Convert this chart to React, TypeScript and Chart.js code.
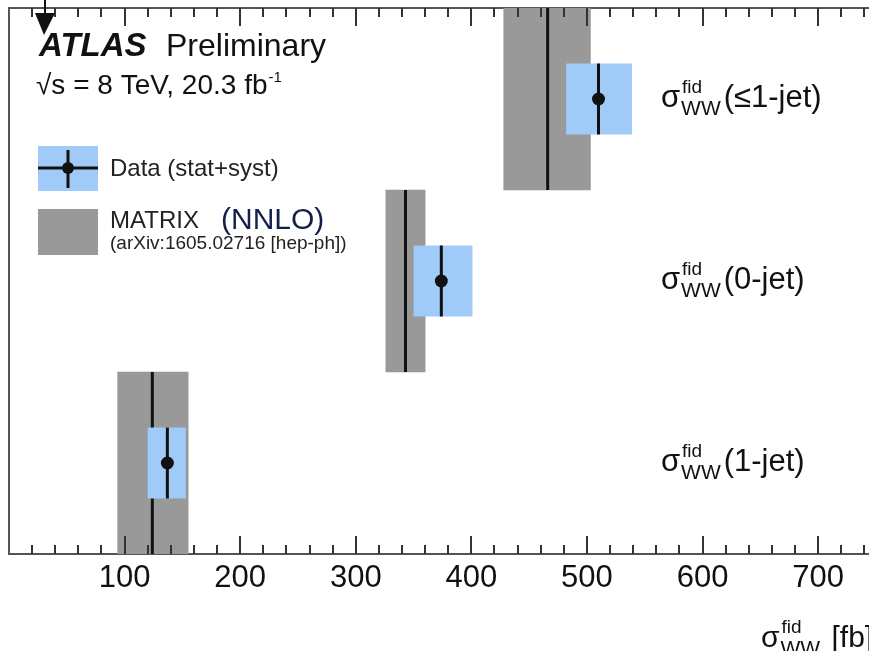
import React, { useEffect, useRef } from 'react';
import { Chart, registerables } from 'chart.js';

Chart.register(...registerables);

// ---- data ----
const rowLabels = ['(1-jet)', '(0-jet)', '(≤1-jet)'];
const rowPositions = [0.5, 1.5, 2.5];
const dataValues = [137, 374, 510];
const dataLow = [120, 350, 482];
const dataHigh = [153, 401, 539];
const theoryValues = [124, 343, 466];
const theoryLow = [94, 326, 428];
const theoryHigh = [155, 360, 503];
const xMin = 0;
const xMax = 744;
const xMajorStep = 100;
const xMinorStep = 20;
const yMin = 0;
const yMax = 3;
const rowLabelAnchor = 564;

// ---- style ----
const FONT = '"Liberation Sans", Arial, Helvetica, sans-serif';
const GRAY = '#999999';
const BLUE = '#a0cbf8';
const INK = '#111111';
const AXIS = '#555555';
const DATA_BOX_FRACTION = 0.39;

function drawSigma(ctx: CanvasRenderingContext2D, x: number, baseline: number, tail: string, size: number) {
  ctx.fillStyle = INK;
  ctx.textAlign = 'left';
  ctx.textBaseline = 'alphabetic';
  ctx.font = `${size}px ${FONT}`;
  ctx.fillText('σ', x, baseline);
  const sw = ctx.measureText('σ').width;
  ctx.font = `19px ${FONT}`;
  ctx.fillText('fid', x + sw + 2, baseline - 14);
  const fw = ctx.measureText('fid').width;
  ctx.font = `21px ${FONT}`;
  ctx.fillText('WW', x + sw + 1, baseline + 8);
  const ww = ctx.measureText('WW').width;
  ctx.font = `${size}px ${FONT}`;
  ctx.fillText(tail, x + sw + 1 + Math.max(fw, ww) + 3, baseline);
}

const decorPlugin = {
  id: 'decor',
  afterDatasetDraw(chart: any, args: any) {
    const ctx: CanvasRenderingContext2D = chart.ctx;
    const xs = chart.scales.x;
    const ys = chart.scales.y;
    const a = chart.chartArea;
    ctx.save();
    ctx.beginPath();
    ctx.rect(a.left, a.top, a.right - a.left, a.bottom - a.top);
    ctx.clip();
    ctx.strokeStyle = INK;
    ctx.lineWidth = 3;
    if (args.index === 2) {
      theoryValues.forEach((v, i) => {
        const x = xs.getPixelForValue(v);
        ctx.beginPath();
        ctx.moveTo(x, ys.getPixelForValue(rowPositions[i] - 0.5));
        ctx.lineTo(x, ys.getPixelForValue(rowPositions[i] + 0.5));
        ctx.stroke();
      });
    }
    if (args.index === 1) {
      dataValues.forEach((v, i) => {
        const x = xs.getPixelForValue(v);
        ctx.beginPath();
        ctx.moveTo(x, ys.getPixelForValue(rowPositions[i] - DATA_BOX_FRACTION / 2));
        ctx.lineTo(x, ys.getPixelForValue(rowPositions[i] + DATA_BOX_FRACTION / 2));
        ctx.stroke();
      });
    }
    ctx.restore();
  },
  afterDraw(chart: any) {
    const ctx: CanvasRenderingContext2D = chart.ctx;
    const xs = chart.scales.x;
    const ys = chart.scales.y;
    const a = chart.chartArea;
    ctx.save();
    // inward tick marks on bottom and top axes
    ctx.strokeStyle = '#333333';
    ctx.lineWidth = 2;
    for (let v = xMin + xMinorStep; v <= xMax; v += xMinorStep) {
      const x = Math.round(xs.getPixelForValue(v));
      const len = v % xMajorStep === 0 ? 18 : 9;
      ctx.beginPath();
      ctx.moveTo(x, a.bottom);
      ctx.lineTo(x, a.bottom - len);
      ctx.moveTo(x, a.top);
      ctx.lineTo(x, a.top + len);
      ctx.stroke();
    }

    // arrow at top left
    ctx.fillStyle = INK;
    ctx.strokeStyle = INK;
    ctx.lineWidth = 2;
    ctx.beginPath();
    ctx.moveTo(45, 0);
    ctx.lineTo(45, 14);
    ctx.stroke();
    ctx.beginPath();
    ctx.moveTo(35, 13);
    ctx.lineTo(55, 13);
    ctx.lineTo(44, 35);
    ctx.closePath();
    ctx.fill();

    // ATLAS label
    ctx.textAlign = 'left';
    ctx.textBaseline = 'alphabetic';
    ctx.fillStyle = INK;
    ctx.font = `italic bold 33px ${FONT}`;
    ctx.fillText('ATLAS', 39, 56);
    ctx.font = `32px ${FONT}`;
    ctx.fillText('Preliminary', 166, 56);
    ctx.font = `28px ${FONT}`;
    ctx.fillText('√s = 8 TeV, 20.3 fb', 36, 94);
    const w1 = ctx.measureText('√s = 8 TeV, 20.3 fb').width;
    ctx.font = `15px ${FONT}`;
    ctx.fillText('-1', 36 + w1 + 1, 82);

    // legend
    ctx.fillStyle = BLUE;
    ctx.fillRect(38, 146, 60, 45);
    ctx.strokeStyle = INK;
    ctx.lineWidth = 3;
    ctx.beginPath();
    ctx.moveTo(38, 168);
    ctx.lineTo(98, 168);
    ctx.moveTo(68, 150);
    ctx.lineTo(68, 188);
    ctx.stroke();
    ctx.fillStyle = INK;
    ctx.beginPath();
    ctx.arc(68, 168, 6, 0, Math.PI * 2);
    ctx.fill();
    ctx.fillStyle = GRAY;
    ctx.fillRect(38, 209, 60, 46);
    ctx.fillStyle = '#222222';
    ctx.font = `24px ${FONT}`;
    ctx.fillText('Data (stat+syst)', 110, 176);
    ctx.font = `24px ${FONT}`;
    ctx.fillText('MATRIX', 110, 228);
    ctx.fillStyle = '#14204a';
    ctx.font = `30px ${FONT}`;
    ctx.fillText('(NNLO)', 221, 229);
    ctx.fillStyle = '#222222';
    ctx.font = `19px ${FONT}`;
    ctx.fillText('(arXiv:1605.02716 [hep-ph])', 110, 249);

    // row labels
    rowLabels.forEach((lab, i) => {
      const y = ys.getPixelForValue(rowPositions[i]);
      drawSigma(ctx, xs.getPixelForValue(rowLabelAnchor), y + 8, lab, 31);
    });

    // axis title
    drawSigma(ctx, 761, 647, ' [fb]', 30);
    ctx.restore();
  },
};

export default function App() {
  const canvasRef = useRef<HTMLCanvasElement | null>(null);

  useEffect(() => {
    document.body.style.margin = '0';
    document.body.style.overflow = 'hidden';
    const canvas = canvasRef.current;
    if (!canvas) return;

    const chart = new Chart(canvas, {
      type: 'bar',
      data: {
        datasets: [
          {
            type: 'scatter',
            label: 'Data',
            data: dataValues.map((v, i) => ({ x: v, y: rowPositions[i] })),
            backgroundColor: INK,
            borderColor: INK,
            pointRadius: 6.5,
            pointHoverRadius: 6.5,
            borderWidth: 0,
            clip: false,
          } as any,
          {
            type: 'bar',
            label: 'Data (stat+syst)',
            data: dataLow.map((lo, i) => ({ x: [lo, dataHigh[i]], y: rowPositions[i] })),
            backgroundColor: BLUE,
            borderWidth: 0,
            grouped: false,
            categoryPercentage: 1,
            barPercentage: DATA_BOX_FRACTION,
          } as any,
          {
            type: 'bar',
            label: 'MATRIX (NNLO)',
            data: theoryLow.map((lo, i) => ({ x: [lo, theoryHigh[i]], y: rowPositions[i] })),
            backgroundColor: GRAY,
            borderWidth: 0,
            grouped: false,
            categoryPercentage: 1,
            barPercentage: 1,
          } as any,
        ],
      },
      options: {
        indexAxis: 'y',
        responsive: false,
        animation: false,
        devicePixelRatio: 1,
        layout: { autoPadding: false, padding: { left: 9, top: 8, right: 0, bottom: 0 } },
        plugins: {
          legend: { display: false },
          tooltip: { enabled: false },
        },
        scales: {
          x: {
            type: 'linear',
            position: 'bottom',
            min: xMin,
            max: xMax,
            offset: false,
            grid: { display: false, drawTicks: false },
            border: { display: true, color: AXIS, width: 2 },
            ticks: {
              stepSize: xMajorStep,
              includeBounds: false,
              autoSkip: false,
              maxRotation: 0,
              padding: 6,
              color: INK,
              font: { family: FONT, size: 31 },
              callback: (v: any) => (Number(v) > 0 && Number(v) % xMajorStep === 0 ? String(v) : ''),
            },
            afterFit: (s: any) => {
              s.height = 97;
              s.paddingLeft = 0;
              s.paddingRight = 0;
            },
          },
          x2: {
            type: 'linear',
            position: 'top',
            min: xMin,
            max: xMax,
            offset: false,
            grid: { display: false, drawTicks: false },
            border: { display: true, color: AXIS, width: 2 },
            ticks: { display: false, padding: 0, includeBounds: false, stepSize: xMajorStep },
            afterFit: (s: any) => {
              s.height = 0;
              s.paddingLeft = 0;
              s.paddingRight = 0;
            },
          },
          y: {
            type: 'linear',
            position: 'left',
            min: yMin,
            max: yMax,
            offset: false,
            grid: { display: false, drawTicks: false, offset: false },
            border: { display: true, color: AXIS, width: 2 },
            ticks: { display: false, stepSize: 1, padding: 0 },
            afterFit: (s: any) => {
              s.width = 0;
              s.paddingTop = 0;
              s.paddingBottom = 0;
            },
          },
        },
      } as any,
      plugins: [decorPlugin],
    });

    return () => chart.destroy();
  }, []);

  return (
    <div style={{ position: 'absolute', left: 0, top: 0, width: 869, height: 651, background: '#ffffff' }}>
      <canvas ref={canvasRef} width={869} height={651} style={{ display: 'block' }} />
    </div>
  );
}
